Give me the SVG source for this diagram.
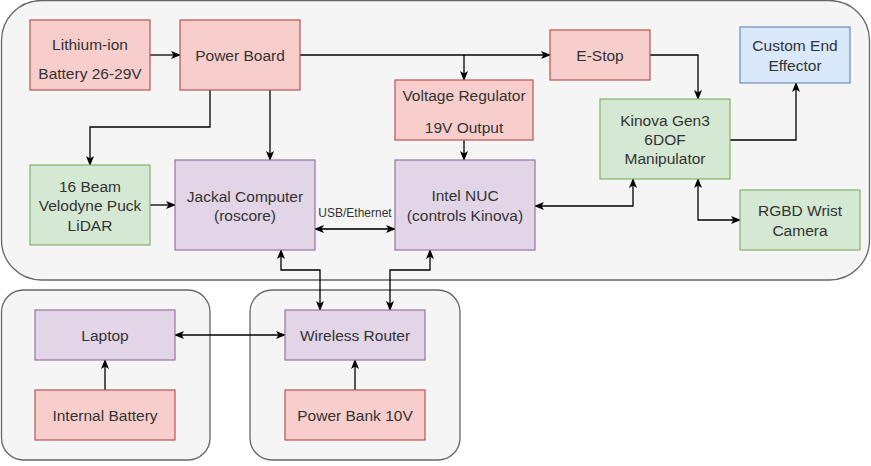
<svg xmlns="http://www.w3.org/2000/svg" width="871" height="466" viewBox="0 0 871 466">
<defs>
<style>
.cont{fill:#f5f5f5;stroke:#666666;stroke-width:1.3}
.red{fill:#f8cecc;stroke:#b85450;stroke-width:1.2}
.green{fill:#d5e8d4;stroke:#82b366;stroke-width:1.2}
.purple{fill:#e1d5e7;stroke:#9673a6;stroke-width:1.2}
.blue{fill:#dae8fc;stroke:#6c8ebf;stroke-width:1.2}
text{font-family:"Liberation Sans",Arial,Helvetica,sans-serif;font-size:15.5px;fill:#333333;text-anchor:middle}
.small{font-size:12px}
.c{fill:none;stroke:#000000;stroke-width:1.3}
.e{marker-end:url(#ah)}
.b{marker-start:url(#ah);marker-end:url(#ah)}
</style>
<marker id="ah" viewBox="0 0 10 8" refX="9" refY="4" markerWidth="10" markerHeight="8" markerUnits="userSpaceOnUse" orient="auto-start-reverse">
<path d="M0,0 L10,4 L0,8 L2.5,4 Z" fill="#000000"/>
</marker>
</defs>
<g id="containers">
<rect id="robot-container" class="cont" x="1.5" y="0.5" width="868" height="279.5" rx="40"/>
<rect id="laptop-container" class="cont" x="1.5" y="290" width="208.5" height="170" rx="22"/>
<rect id="router-container" class="cont" x="250" y="290" width="210" height="170" rx="22"/>
</g>
<g id="connectors">
<path class="c e" d="M150,55 H180"/>
<path class="c e" d="M210,90 V127 H90 V165"/>
<path class="c e" d="M270,90 V160"/>
<path class="c e" d="M300,55 H550"/>
<path class="c e" d="M464,55 V80"/>
<path class="c e" d="M464,140 V160"/>
<path class="c e" d="M650,55 H698 V99"/>
<path class="c e" d="M730,140 H796 V83"/>
<path class="c b" d="M535,206 H633 V179"/>
<path class="c b" d="M698,179 V220 H740"/>
<path class="c e" d="M150,205 H175"/>
<path class="c b" d="M315,229 H395" style="stroke:#333333;stroke-width:2"/>
<text class="small" x="355" y="217">USB/Ethernet</text>
<path class="c b" d="M281,250 V270 H320 V310"/>
<path class="c b" d="M430,250 V270 H390 V310"/>
<path class="c b" d="M175,335 H285"/>
<path class="c e" d="M105,390 V360"/>
<path class="c e" d="M355,390 V360"/>
</g>
<g id="battery">
<rect class="red" x="30" y="20" width="120" height="70"/>
<text x="90" y="49.5">Lithium-ion</text>
<text x="90" y="78.5">Battery 26-29V</text>
</g>
<g id="power-board">
<rect class="red" x="180" y="20" width="120" height="70"/>
<text x="240" y="60.5">Power Board</text>
</g>
<g id="voltage-regulator">
<rect class="red" x="395" y="80" width="138" height="60"/>
<text x="464" y="101">Voltage Regulator</text>
<text x="464" y="132.5">19V Output</text>
</g>
<g id="e-stop">
<rect class="red" x="550" y="30" width="100" height="50"/>
<text x="600" y="60.5">E-Stop</text>
</g>
<g id="end-effector">
<rect class="blue" x="740" y="27" width="110" height="56"/>
<text x="795" y="50.5">Custom End</text>
<text x="795" y="70.5">Effector</text>
</g>
<g id="kinova">
<rect class="green" x="600" y="99" width="130" height="80"/>
<text x="665" y="126">Kinova Gen3</text>
<text x="665" y="145">6DOF</text>
<text x="665" y="164">Manipulator</text>
</g>
<g id="lidar">
<rect class="green" x="30" y="165" width="120" height="80"/>
<text x="90" y="192">16 Beam</text>
<text x="90" y="211">Velodyne Puck</text>
<text x="90" y="230.5">LiDAR</text>
</g>
<g id="jackal">
<rect class="purple" x="175" y="160" width="140" height="90"/>
<text x="245" y="201.5">Jackal Computer</text>
<text x="245" y="220.5">(roscore)</text>
</g>
<g id="nuc">
<rect class="purple" x="395" y="160" width="140" height="90"/>
<text x="465" y="200.5">Intel NUC</text>
<text x="465" y="220.5">(controls Kinova)</text>
</g>
<g id="camera">
<rect class="green" x="740" y="190" width="120" height="60"/>
<text x="800" y="215.5">RGBD Wrist</text>
<text x="800" y="235.5">Camera</text>
</g>
<g id="laptop">
<rect class="purple" x="35" y="310" width="140" height="50"/>
<text x="105" y="340.5">Laptop</text>
</g>
<g id="internal-battery">
<rect class="red" x="35" y="390" width="140" height="50"/>
<text x="105" y="420.5">Internal Battery</text>
</g>
<g id="router">
<rect class="purple" x="285" y="310" width="140" height="50"/>
<text x="355" y="340.5">Wireless Router</text>
</g>
<g id="power-bank">
<rect class="red" x="285" y="390" width="140" height="50"/>
<text x="355" y="420.5">Power Bank 10V</text>
</g>
</svg>
